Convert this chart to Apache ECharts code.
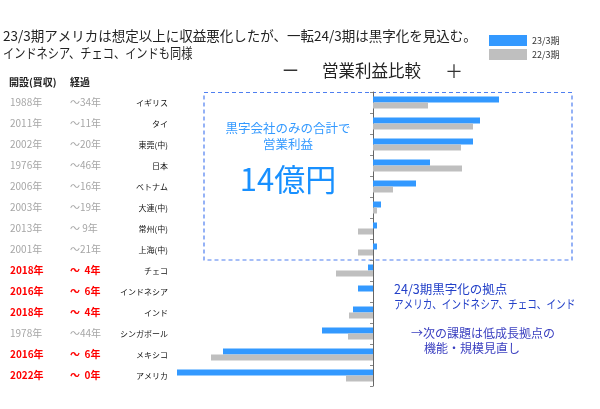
<!DOCTYPE html>
<html><head><meta charset="utf-8">
<script src="https://cdn.jsdelivr.net/npm/echarts@6/dist/echarts.min.js"></script>
<style>html,body{margin:0;padding:0;background:#fff}#c{width:600px;height:409px}</style>
</head><body><div id="c"></div>
<script>
const categories = ['イギリス','タイ','東莞(中)','日本','ベトナム','大連(中)','常州(中)','上海(中)','チェコ','インドネシア','インド','シンガポール','メキシコ','アメリカ'];
const fy23 = [126, 107, 100, 57, 43, 8, 4, 4, -5, -15, -20, -51, -150, -196];
const fy22 = [55, 100, 88, 89, 20, 4, -15, -15, -37, 0, -24, -25, -162, -27];
const openYears = ['1988年','2011年','2002年','1976年','2006年','2003年','2013年','2001年','2018年','2016年','2018年','1978年','2016年','2022年'];
const elapsed = ['～34年','～11年','～20年','～46年','～16年','～19年','～ 9年','～21年','～  4年','～  6年','～  4年','～44年','～  6年','～  0年'];
const isNew = [0,0,0,0,0,0,0,0,1,1,1,0,1,1];
const seriesNames = ['23/3期','22/3期'];

const chart = echarts.init(document.getElementById('c'), null, {renderer:'canvas'});
const FONT = '"Noto Sans CJK JP", "Noto Sans", sans-serif';
const rowRich = {
  g: {color:'#a6a6a6', fontSize:10, fontFamily:FONT},
  r: {color:'#ff0000', fontSize:10, fontWeight:'bold', fontFamily:FONT}
};
function rowLabel(arr){
  return function(v, i){ return (isNew[i] ? '{r|' : '{g|') + arr[i] + '}'; };
}
const gridTop = 92, gridLeft = 173;
chart.setOption({
  animation:false,
  textStyle:{fontFamily:FONT},
  grid:{left:gridLeft, right:27, top:gridTop, bottom:23},
  legend:{
    data:seriesNames, orient:'vertical', left:484, top:30,
    itemWidth:38, itemHeight:11, itemGap:3, icon:'rect',
    textStyle:{fontSize:9, color:'#333', fontFamily:FONT}
  },
  xAxis:{type:'value', min:-200, max:200, show:false},
  yAxis:[
    {type:'category', data:categories, inverse:true, position:'left',
     axisLine:{onZero:true, lineStyle:{color:'#666', width:1}},
     axisTick:{show:true, length:3, lineStyle:{color:'#888'}},
     axisLabel:{show:false}, splitLine:{show:false}},
    {type:'category', data:categories, inverse:true, position:'left',
     axisLine:{show:false, onZero:false}, axisTick:{show:false},
     axisLabel:{margin:5, fontSize:8, color:'#111', fontFamily:FONT}},
    {type:'category', data:categories, inverse:true, position:'left',
     axisLine:{show:false, onZero:false}, axisTick:{show:false},
     axisLabel:{margin:163, align:'left', formatter:rowLabel(openYears), rich:rowRich}},
    {type:'category', data:categories, inverse:true, position:'left',
     axisLine:{show:false, onZero:false}, axisTick:{show:false},
     axisLabel:{margin:103, align:'left', formatter:rowLabel(elapsed), rich:rowRich}}
  ],
  series:[
    {name:seriesNames[0], type:'bar', data:fy23, yAxisIndex:0, barWidth:6, barGap:'0%',
     itemStyle:{color:'#3399ff'}},
    {name:seriesNames[1], type:'bar', data:fy22, yAxisIndex:0, barWidth:6, barGap:'0%',
     itemStyle:{color:'#bfbfbf'}}
  ],
  graphic:[
    {type:'text', x:3, y:29, style:{text:'23/3期アメリカは想定以上に収益悪化したが、一転24/3期は黒字化を見込む。', fontSize:13.5, fill:'#222', fontFamily:FONT}},
    {type:'text', x:3, y:46, scaleX:0.83, style:{text:'インドネシア、チェコ、インドも同様', fontSize:13.5, fill:'#222', fontFamily:FONT}},
    {type:'text', left:282, top:62, style:{text:'ー', fontSize:17, fill:'#333', fontFamily:FONT}},
    {type:'text', left:322, top:62, style:{text:'営業利益比較', fontSize:16.5, fill:'#222', fontFamily:FONT}},
    {type:'text', left:445, top:62, style:{text:'＋', fontSize:18, fill:'#333', fontFamily:FONT}},
    {type:'text', left:9, top:77, style:{text:'開設(買収)', fontSize:10, fontWeight:'bold', fill:'#222', fontFamily:FONT}},
    {type:'text', left:70, top:77, style:{text:'経過', fontSize:10, fontWeight:'bold', fill:'#222', fontFamily:FONT}},
    {type:'rect', shape:{x:204, y:92.5, width:368, height:167.5},
     style:{fill:'none', stroke:'#4f7ff0', lineWidth:1.2, lineDash:[4,3]}, z:0},
    {type:'text', x:288, y:120, style:{text:'黒字会社のみの合計で\n営業利益', fontSize:12.5, lineHeight:16, align:'center', fill:'#3399ff', fontFamily:FONT}},
    {type:'text', x:288, y:164, style:{text:'14億円', fontSize:31, align:'center', fill:'#1890ff', fontFamily:FONT}},
    {type:'text', x:394, y:283, style:{text:'24/3期黒字化の拠点', fontSize:12.5, fill:'#2340c8', fontFamily:FONT}},
    {type:'text', x:394, y:298, scaleX:0.8, style:{text:'アメリカ、インドネシア、チェコ、インド', fontSize:12, fill:'#2340c8', fontFamily:FONT}},
    {type:'text', x:411, y:327, style:{text:'→次の課題は低成長拠点の', fontSize:12, fill:'#3a3fc0', fontFamily:FONT}},
    {type:'text', x:424, y:342, style:{text:'機能・規模見直し', fontSize:12, fill:'#3a3fc0', fontFamily:FONT}}
  ]
});
</script></body></html>
